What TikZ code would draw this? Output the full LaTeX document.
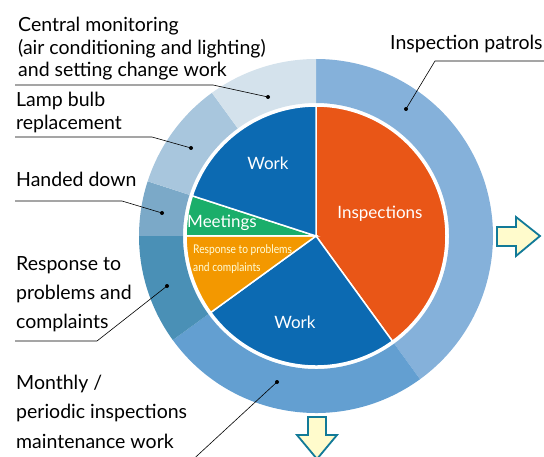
\documentclass[tikz,border=0pt]{standalone}
\usepackage{fontspec}
\setmainfont{Lato}
\usepackage{graphicx}
\definecolor{pieOrange}{RGB}{233,86,23}
\definecolor{pieBlue}{RGB}{12,106,178}
\definecolor{pieGreen}{RGB}{26,174,106}
\definecolor{pieYellow}{RGB}{243,152,0}
\definecolor{ringPatrol}{RGB}{133,177,218}
\definecolor{ringMonthly}{RGB}{99,159,209}
\definecolor{ringResp}{RGB}{74,144,182}
\definecolor{ringHanded}{RGB}{123,169,200}
\definecolor{ringLamp}{RGB}{168,198,221}
\definecolor{ringCentral}{RGB}{212,226,236}
\definecolor{arrowEdge}{RGB}{18,122,152}
\definecolor{arrowFill}{RGB}{255,251,204}
\tikzset{
  slice/.style={draw=white, line width=1.5pt},
  leader/.style={draw=black, line width=0.6pt},
  callout/.style={anchor=base west, align=left, inner sep=0pt, font=\fontsize{19.5}{22.5}\selectfont},
  inlabel/.style={text=white, inner sep=0pt, font=\fontsize{17}{18}\selectfont},
  bigarrow/.style={draw=arrowEdge, fill=arrowFill, line width=1.8pt, line join=miter}
}

\begin{document}
\begin{tikzpicture}[x=1pt, y=1pt]
		\useasboundingbox (0,0) rectangle (544,456);
		\begin{scope}[shift={(316,220)}]
		%%%%%%%%%%%%%
		% outer ring
		\fill[ringPatrol] (90:177pt) arc[start angle=90, end angle=-54, radius=177pt] -- (-54:133pt) arc[start angle=-54, end angle=90, radius=133pt] -- cycle;
		\fill[ringMonthly] (-54:177pt) arc[start angle=-54, end angle=-144, radius=177pt] -- (-144:133pt) arc[start angle=-144, end angle=-54, radius=133pt] -- cycle;
		\fill[ringResp] (216:177pt) arc[start angle=216, end angle=180, radius=177pt] -- (180:133pt) arc[start angle=180, end angle=216, radius=133pt] -- cycle;
		\fill[ringHanded] (180:177pt) arc[start angle=180, end angle=162, radius=177pt] -- (162:133pt) arc[start angle=162, end angle=180, radius=133pt] -- cycle;
		\fill[ringLamp] (162:177pt) arc[start angle=162, end angle=126, radius=177pt] -- (126:133pt) arc[start angle=126, end angle=162, radius=133pt] -- cycle;
		\fill[ringCentral] (126:177pt) arc[start angle=126, end angle=90, radius=177pt] -- (90:133pt) arc[start angle=90, end angle=126, radius=133pt] -- cycle;
		%%%%%%%%%%%%%
		% inner pie
		\filldraw[slice, fill=pieOrange] (0,0) -- (90:130pt) arc[start angle=90, end angle=-54, radius=130pt] -- cycle;
		\filldraw[slice, fill=pieBlue] (0,0) -- (-54:130pt) arc[start angle=-54, end angle=-144, radius=130pt] -- cycle;
		\filldraw[slice, fill=pieYellow] (0,0) -- (216:130pt) arc[start angle=216, end angle=180, radius=130pt] -- cycle;
		\filldraw[slice, fill=pieGreen] (0,0) -- (180:130pt) arc[start angle=180, end angle=162, radius=130pt] -- cycle;
		\filldraw[slice, fill=pieBlue] (0,0) -- (162:130pt) arc[start angle=162, end angle=90, radius=130pt] -- cycle;
		%%%%%%%%%%%%%
		\node[inlabel] (workTop) at (-48,73) {Work};
		\node[inlabel] (inspect) at (64,22) {Inspections};
		\node[inlabel] (meet) at (-94,13) {Meetings};
		\node[inlabel, anchor=west, align=left, text=white!85!yellow, font=\fontsize{12}{18}\selectfont] (respIn) at (-123,-23) {\scalebox{0.85}[1]{Response to problems}\\\scalebox{0.85}[1]{and complaints}};
		\node[inlabel] (workBot) at (-21,-86) {Work};
		\end{scope}
		%%%%%%%%%%%%%
		% callouts
		\node[callout] (lblCentral) at (18,379) {Central monitoring\\(air conditioning and lighting)\\and setting change work};
		\node[callout, font=\fontsize{19.5}{23}\selectfont] (lblLamp) at (16,326) {Lamp bulb\\replacement};
		\node[callout] (lblHanded) at (16,269) {Handed down};
		\node[callout, font=\fontsize{19.5}{29}\selectfont] (lblResp) at (16,128) {Response to\\problems and\\complaints};
		\node[callout, font=\fontsize{19.5}{29.5}\selectfont] (lblMonthly) at (16,8) {Monthly /\\periodic inspections\\maintenance work};
		\node[callout] (lblPatrol) at (390,406) {Inspection patrols};
		%%%%%%%%%%%%%
		\coordinate (cenA) at (15,371); \coordinate (cenB) at (213,371); \coordinate (cenDot) at (268,359);
		\coordinate (lampA) at (15,319); \coordinate (lampB) at (152,319); \coordinate (lampDot) at (191,308);
		\coordinate (handA) at (15,255); \coordinate (handB) at (122,255); \coordinate (handDot) at (162,243);
		\coordinate (respA) at (15,115); \coordinate (respB) at (97,115); \coordinate (respDot) at (167,170);
		\coordinate (monB) at (186,-10); \coordinate (monDot) at (277,74);
		\coordinate (patA) at (550,395); \coordinate (patB) at (435,395); \coordinate (patDot) at (406,347);
		\draw[leader] (cenA) -- (cenB) -- (cenDot); \fill (cenDot) circle (2pt);
		\draw[leader] (lampA) -- (lampB) -- (lampDot); \fill (lampDot) circle (2pt);
		\draw[leader] (handA) -- (handB) -- (handDot); \fill (handDot) circle (2pt);
		\draw[leader] (respA) -- (respB) -- (respDot); \fill (respDot) circle (2pt);
		\draw[leader] (monB) -- (monDot); \fill (monDot) circle (2pt);
		\draw[leader] (patA) -- (patB) -- (patDot); \fill (patDot) circle (2pt);
		%%%%%%%%%%%%%
		% arrows
		\draw[bigarrow] (497,229) -- (516,229) -- (516,239) -- (540,220) -- (516,200) -- (516,210) -- (497,210) -- cycle;
		\draw[bigarrow] (308,39) -- (308,21) -- (297,21) -- (317,-3) -- (337,21) -- (326,21) -- (326,39) -- cycle;
\end{tikzpicture}
\end{document}
